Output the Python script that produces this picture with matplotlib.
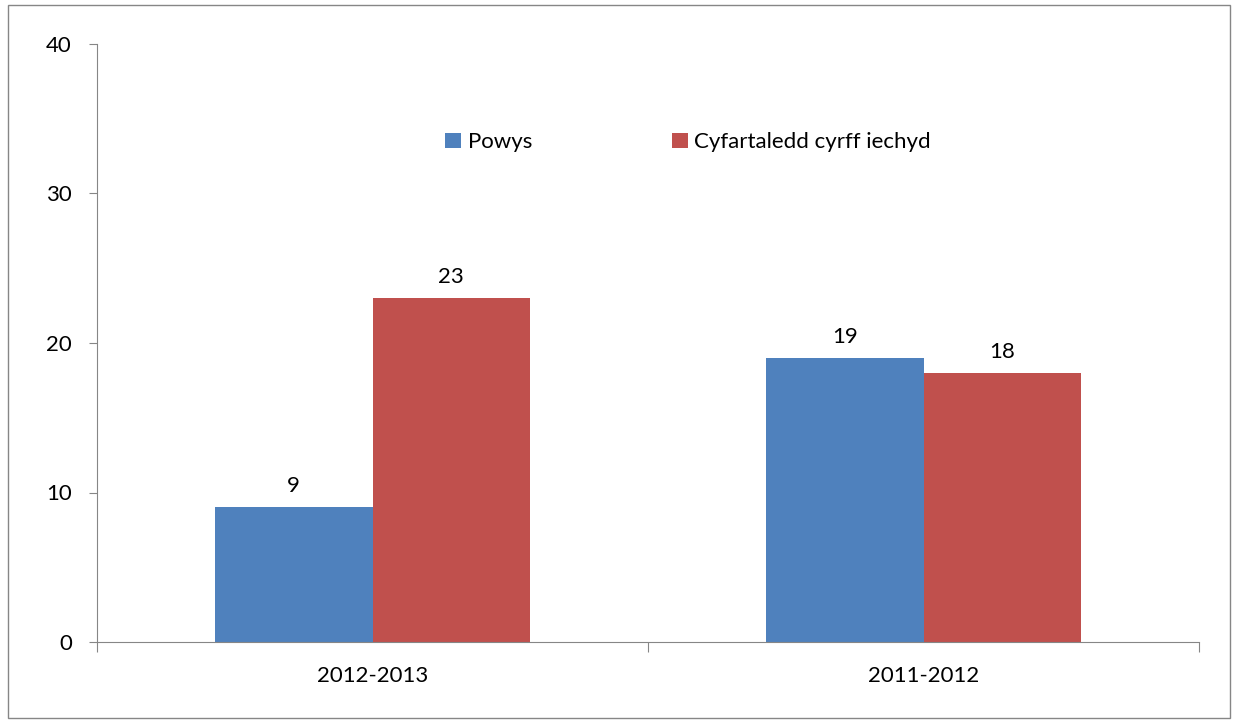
import numpy as np
import matplotlib.pyplot as plt
from matplotlib.patches import Rectangle

# -----------------------------
# DATA
# -----------------------------
categories = ["2012-2013", "2011-2012"]
powys = [9, 19]
average = [23, 18]
series_names = ["Powys", "Cyfartaledd cyrff iechyd"]

BLUE = "#4F81BD"
RED = "#C0504D"
AXIS_GRAY = "#868686"
FS = 16

plt.rcParams['font.family'] = ['Lato', 'DejaVu Sans']

fig = plt.figure(figsize=(12.39, 7.27), dpi=100)
ax = fig.add_axes([97 / 1239, 1 - 642 / 727, (1199 - 97) / 1239, (642 - 44) / 727])

# outer chart border
fig.patches.append(Rectangle((8 / 1239, 1 - 718 / 727), 1222 / 1239, 713 / 727,
                             transform=fig.transFigure, fill=False,
                             edgecolor=AXIS_GRAY, linewidth=1))

x = np.arange(len(categories))
width = 0.286

b1 = ax.bar(x - width / 2, powys, width, color=BLUE, label=series_names[0])
b2 = ax.bar(x + width / 2, average, width, color=RED, label=series_names[1])

for bars in (b1, b2):
    for bar in bars:
        ax.annotate(f"{bar.get_height():.0f}",
                    (bar.get_x() + bar.get_width() / 2, bar.get_height()),
                    xytext=(0, 8), textcoords="offset points",
                    ha="center", va="bottom", fontsize=FS)

ax.set_xlim(-0.5, 1.5)
ax.set_ylim(0, 40)
ax.set_yticks([0, 10, 20, 30, 40])

# category boundary ticks, labels in the middle
ax.set_xticks([-0.5, 0.5, 1.5])
ax.set_xticklabels([])
ax.set_xticks(x, minor=True)
ax.set_xticklabels(categories, minor=True)
ax.tick_params(axis="x", which="minor", length=0, pad=17, labelsize=FS)
ax.tick_params(axis="x", which="major", length=7, color=AXIS_GRAY)
ax.tick_params(axis="y", length=6, color=AXIS_GRAY, labelsize=FS, pad=12)

for s in ["top", "right"]:
    ax.spines[s].set_visible(False)
for s in ["left", "bottom"]:
    ax.spines[s].set_color(AXIS_GRAY)

ax.legend(loc="upper left", bbox_to_anchor=(0.298, 0.886), ncol=2, frameon=False,
          fontsize=FS, handlelength=0.7, handleheight=0.7, handletextpad=0.3,
          columnspacing=6.3)

fig.savefig("out.png", dpi=100)
